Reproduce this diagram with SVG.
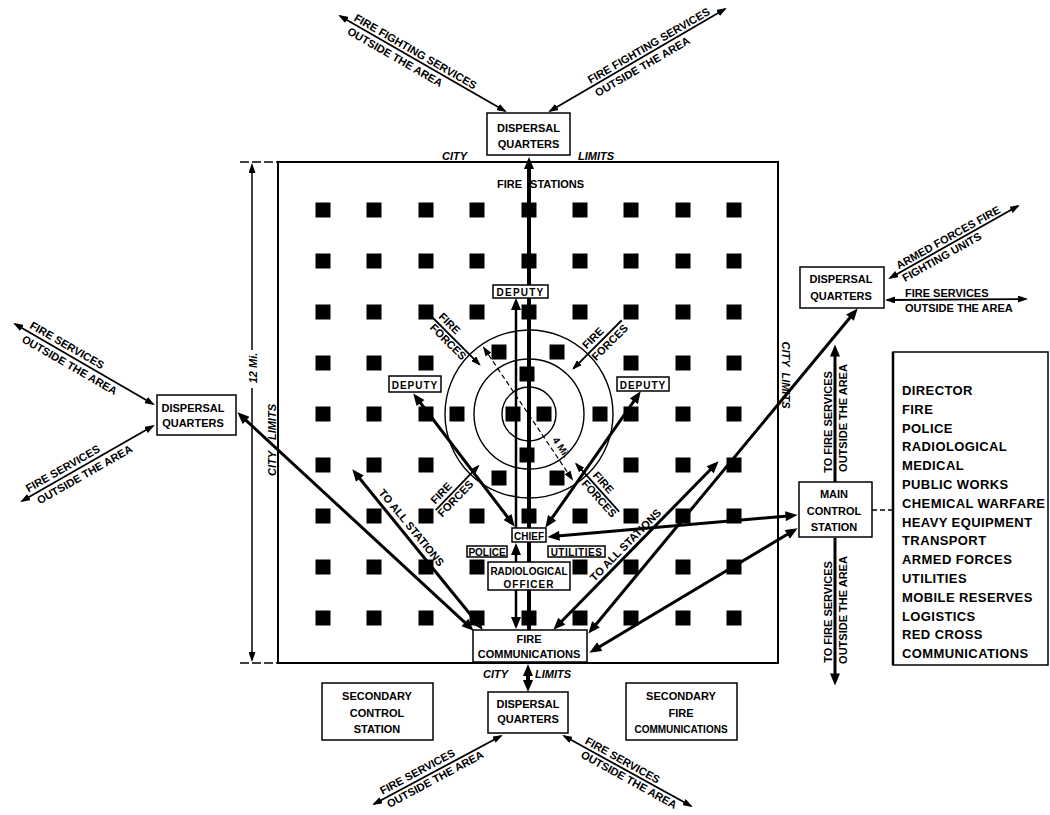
<svg xmlns="http://www.w3.org/2000/svg" width="1050" height="815" viewBox="0 0 1050 815">
<defs>
<style>
.t{font-family:"Liberation Sans",Arial,sans-serif;font-weight:bold;font-size:11px;fill:#000}
.s10{font-size:10px}
.s13{font-size:13px;letter-spacing:0.4px}
.m{text-anchor:middle}
.i{font-style:italic}
.box{fill:#fff;stroke:#000;stroke-width:1.5}
.sq{fill:#000}
.c{fill:none;stroke:#000;stroke-width:1.4}
.k{stroke:#000;fill:none}
.w4{stroke-width:4}
.w3{stroke-width:3}
.w25{stroke-width:2.5}
.w2{stroke-width:1.8}
.AA{marker-start:url(#A);marker-end:url(#A)}
.AE{marker-end:url(#A)}
.aa{marker-start:url(#a);marker-end:url(#a)}
.ae{marker-end:url(#a)}
</style>
<marker id="A" viewBox="0 0 12 10" refX="5" refY="5" markerWidth="13" markerHeight="10" markerUnits="userSpaceOnUse" orient="auto-start-reverse"><path d="M0,0L12,5L0,10z"/></marker>
<marker id="a" viewBox="0 0 10 7" refX="8" refY="3.5" markerWidth="10" markerHeight="7" markerUnits="userSpaceOnUse" orient="auto-start-reverse"><path d="M0,0L10,3.5L0,7z"/></marker>
</defs>
<rect width="1050" height="815" fill="#fff"/>

<!-- city limits and dimension -->
<g id="city">
<rect x="278" y="162" width="500" height="501" fill="none" stroke="#000" stroke-width="2"/>
<line x1="240" y1="162" x2="278" y2="162" stroke="#000" stroke-width="1.5" stroke-dasharray="9 3"/>
<line x1="240" y1="663" x2="278" y2="663" stroke="#000" stroke-width="1.5" stroke-dasharray="9 3"/>
<line x1="252" y1="350" x2="252" y2="165" class="k ae" stroke-width="1.5"/>
<line x1="252" y1="388" x2="252" y2="660" class="k ae" stroke-width="1.5"/>
<text class="t m i" transform="translate(257,368) rotate(-90)">12 Mi.</text>
<text class="t i" x="442" y="160">CITY</text>
<text class="t i" x="578" y="160">LIMITS</text>
<text class="t i" x="483" y="678">CITY</text>
<text class="t i" x="535" y="678">LIMITS</text>
<text class="t m i" transform="translate(276,440) rotate(-90)" word-spacing="8">CITY LIMITS</text>
<text class="t m i" transform="translate(782,375) rotate(90)" word-spacing="3">CITY LIMITS</text>
</g>

<!-- block grid -->
<g id="blocks" class="sq">
<rect x="315.5" y="202.5" width="15" height="15"/><rect x="366.5" y="202.5" width="15" height="15"/><rect x="418.5" y="202.5" width="15" height="15"/><rect x="469.5" y="202.5" width="15" height="15"/><rect x="521.5" y="202.5" width="15" height="15"/><rect x="572.5" y="202.5" width="15" height="15"/><rect x="623.5" y="202.5" width="15" height="15"/><rect x="675.5" y="202.5" width="15" height="15"/><rect x="726.5" y="202.5" width="15" height="15"/>
<rect x="315.5" y="253.5" width="15" height="15"/><rect x="366.5" y="253.5" width="15" height="15"/><rect x="418.5" y="253.5" width="15" height="15"/><rect x="469.5" y="253.5" width="15" height="15"/><rect x="521.5" y="253.5" width="15" height="15"/><rect x="572.5" y="253.5" width="15" height="15"/><rect x="623.5" y="253.5" width="15" height="15"/><rect x="675.5" y="253.5" width="15" height="15"/><rect x="726.5" y="253.5" width="15" height="15"/>
<rect x="315.5" y="304.5" width="15" height="15"/><rect x="366.5" y="304.5" width="15" height="15"/><rect x="418.5" y="304.5" width="15" height="15"/><rect x="469.5" y="304.5" width="15" height="15"/><rect x="521.5" y="304.5" width="15" height="15"/><rect x="572.5" y="304.5" width="15" height="15"/><rect x="623.5" y="304.5" width="15" height="15"/><rect x="675.5" y="304.5" width="15" height="15"/><rect x="726.5" y="304.5" width="15" height="15"/>
<rect x="315.5" y="355.5" width="15" height="15"/><rect x="366.5" y="355.5" width="15" height="15"/><rect x="418.5" y="355.5" width="15" height="15"/><rect x="623.5" y="355.5" width="15" height="15"/><rect x="675.5" y="355.5" width="15" height="15"/><rect x="726.5" y="355.5" width="15" height="15"/>
<rect x="315.5" y="406.5" width="15" height="15"/><rect x="366.5" y="406.5" width="15" height="15"/><rect x="418.5" y="406.5" width="15" height="15"/><rect x="623.5" y="406.5" width="15" height="15"/><rect x="675.5" y="406.5" width="15" height="15"/><rect x="726.5" y="406.5" width="15" height="15"/>
<rect x="315.5" y="457.5" width="15" height="15"/><rect x="366.5" y="457.5" width="15" height="15"/><rect x="418.5" y="457.5" width="15" height="15"/><rect x="623.5" y="457.5" width="15" height="15"/><rect x="675.5" y="457.5" width="15" height="15"/><rect x="726.5" y="457.5" width="15" height="15"/>
<rect x="315.5" y="508.5" width="15" height="15"/><rect x="366.5" y="508.5" width="15" height="15"/><rect x="418.5" y="508.5" width="15" height="15"/><rect x="469.5" y="508.5" width="15" height="15"/><rect x="521.5" y="508.5" width="15" height="15"/><rect x="572.5" y="508.5" width="15" height="15"/><rect x="623.5" y="508.5" width="15" height="15"/><rect x="675.5" y="508.5" width="15" height="15"/><rect x="726.5" y="508.5" width="15" height="15"/>
<rect x="315.5" y="559.5" width="15" height="15"/><rect x="366.5" y="559.5" width="15" height="15"/><rect x="418.5" y="559.5" width="15" height="15"/><rect x="469.5" y="559.5" width="15" height="15"/><rect x="572.5" y="559.5" width="15" height="15"/><rect x="623.5" y="559.5" width="15" height="15"/><rect x="675.5" y="559.5" width="15" height="15"/><rect x="726.5" y="559.5" width="15" height="15"/>
<rect x="315.5" y="610.5" width="15" height="15"/><rect x="366.5" y="610.5" width="15" height="15"/><rect x="418.5" y="610.5" width="15" height="15"/><rect x="469.5" y="610.5" width="15" height="15"/><rect x="521.5" y="610.5" width="15" height="15"/><rect x="572.5" y="610.5" width="15" height="15"/><rect x="623.5" y="610.5" width="15" height="15"/><rect x="675.5" y="610.5" width="15" height="15"/><rect x="726.5" y="610.5" width="15" height="15"/>
<!-- centre cluster -->
<rect x="449.5" y="406.5" width="15" height="15"/><rect x="505.5" y="406.5" width="15" height="15"/><rect x="536.5" y="406.5" width="15" height="15"/><rect x="592.5" y="406.5" width="15" height="15"/>
<rect x="519.5" y="366.5" width="15" height="15"/><rect x="519.5" y="447.5" width="15" height="15"/>
<rect x="491.5" y="344.5" width="15" height="15"/><rect x="549.5" y="344.5" width="15" height="15"/><rect x="491.5" y="470.5" width="15" height="15"/><rect x="549.5" y="470.5" width="15" height="15"/>
</g>

<!-- target rings -->
<g id="rings">
<circle class="c" cx="529" cy="414" r="27"/>
<circle class="c" cx="529" cy="414" r="55"/>
<circle class="c" cx="529" cy="414" r="84"/>
<line x1="484" y1="348" x2="572" y2="479" class="k aa" stroke-width="1.2" stroke-dasharray="5 3"/>
<text class="t s10" transform="translate(552,440) rotate(56)">4 Mi.</text>
</g>

<text class="t" x="497" y="188" word-spacing="5">FIRE STATIONS</text>

<!-- connectors -->
<g id="connectors" class="k">
<line x1="529" y1="633" x2="529" y2="164" class="w4 AE"/>
<line x1="528" y1="671" x2="528" y2="685" class="w4 AA"/>
<line x1="516" y1="528" x2="516" y2="305" class="w25 AE"/>
<line x1="516" y1="562" x2="516" y2="550" class="w25 AE"/>
<line x1="516" y1="590" x2="516" y2="622" class="w25 AE"/>
<line x1="417.5" y1="399" x2="510.5" y2="521" class="w3 AA"/>
<line x1="636.7" y1="397.1" x2="549.3" y2="521.9" class="w3 AA"/>
<line x1="242.5" y1="417.1" x2="468.5" y2="625.9" class="w3 AA" stroke-width="3.5"/>
<line x1="478.3" y1="624.2" x2="356.7" y2="474.8" class="w3 AA"/>
<line x1="558.3" y1="624.7" x2="713.7" y2="466.3" class="w3 AA"/>
<line x1="592.8" y1="628.2" x2="853.2" y2="313.8" class="w3 AA"/>
<line x1="595.4" y1="649.2" x2="791.6" y2="531.8" class="w3 AA"/>
<line x1="554.5" y1="536.3" x2="790.5" y2="515.7" class="w3 AA"/>
<line x1="835" y1="482" x2="835" y2="351.5" class="w3 AE" stroke-width="3.5"/>
<line x1="835" y1="538" x2="835" y2="678.5" class="w3 AE" stroke-width="3.5"/>
<line x1="340" y1="16" x2="505" y2="111" class="w2 aa"/>
<line x1="725" y1="9" x2="550" y2="111" class="w2 aa"/>
<line x1="15" y1="324" x2="153" y2="404" class="w2 aa"/>
<line x1="22" y1="501" x2="153" y2="426" class="w2 aa"/>
<line x1="890" y1="278" x2="1018" y2="206" class="w2 aa"/>
<line x1="887" y1="300" x2="1026" y2="299" class="w2 aa"/>
<line x1="501" y1="736" x2="374" y2="804" class="w2 aa"/>
<line x1="564" y1="736" x2="691" y2="806" class="w2 aa"/>
<line x1="872" y1="510" x2="893" y2="510" stroke-width="1.3" stroke-dasharray="5 3"/>
<g transform="translate(456,341) rotate(45)"><line x1="-35" y1="0" x2="33" y2="0" class="w2 ae"/></g>
<g transform="translate(597,345) rotate(-45)"><line x1="35" y1="0" x2="-33" y2="0" class="w2 ae"/></g>
<g transform="translate(458,487) rotate(-46)"><line x1="-32" y1="0" x2="29" y2="0" class="w2 ae"/></g>
<g transform="translate(597,487) rotate(48)"><line x1="33" y1="0" x2="-31" y2="0" class="w2 ae"/></g>
</g>

<!-- connector labels -->
<g id="labels">
<g transform="translate(422.5,63.5) rotate(29.9)"><text class="t m" x="-12" y="-3">FIRE FIGHTING SERVICES</text><text class="t m" x="-27" y="12">OUTSIDE THE AREA</text></g>
<g transform="translate(637.5,60) rotate(-30.2)"><text class="t m" x="17" y="-3">FIRE FIGHTING SERVICES</text><text class="t m" x="1" y="12">OUTSIDE THE AREA</text></g>
<g transform="translate(84,364) rotate(30)"><text class="t m" x="-24" y="-4">FIRE SERVICES</text><text class="t m" x="-12" y="12">OUTSIDE THE AREA</text></g>
<g transform="translate(87.5,463.5) rotate(-29.7)"><text class="t m" x="-24" y="-4">FIRE SERVICES</text><text class="t m" x="-8" y="12">OUTSIDE THE AREA</text></g>
<g transform="translate(437,770) rotate(-28.3)"><text class="t m" x="-18" y="-4">FIRE SERVICES</text><text class="t m" x="-6" y="11">OUTSIDE THE AREA</text></g>
<g transform="translate(628,771) rotate(29)"><text class="t m" x="-10" y="-3">FIRE SERVICES</text><text class="t m" x="5" y="11">OUTSIDE THE AREA</text></g>
<g transform="translate(954,242) rotate(-29.3)"><text class="t m" x="-3" y="-3">ARMED FORCES FIRE</text><text class="t m" x="-18" y="11">FIGHTING UNITS</text></g>
<text class="t" x="905" y="297">FIRE SERVICES</text>
<text class="t" x="905" y="312">OUTSIDE THE AREA</text>
<text class="t m" transform="translate(418,549.5) rotate(50.6)" x="-21" y="-5">TO ALL STATIONS</text>
<text class="t m" transform="translate(636,545.5) rotate(-45.5)" x="-7" y="-4">TO ALL STATIONS</text>
<g transform="translate(835,420) rotate(-90)"><text class="t m" x="-2" y="-3">TO FIRE SERVICES</text><text class="t m" x="2" y="12">OUTSIDE THE AREA</text></g>
<g transform="translate(835,612) rotate(-90)"><text class="t m" x="0" y="-3">TO FIRE SERVICES</text><text class="t m" x="2" y="12">OUTSIDE THE AREA</text></g>
<g transform="translate(456,341) rotate(45)"><text class="t m" x="-17" y="-4">FIRE</text><text class="t m" x="-5" y="10">FORCES</text></g>
<g transform="translate(597,345) rotate(-45)"><text class="t m" x="2" y="-4">FIRE</text><text class="t m" x="11" y="11">FORCES</text></g>
<g transform="translate(458,487) rotate(-46)"><text class="t m" x="-16" y="-4">FIRE</text><text class="t m" x="-10" y="10">FORCES</text></g>
<g transform="translate(597,487) rotate(48)"><text class="t m" x="1" y="-4">FIRE</text><text class="t m" x="10" y="10">FORCES</text></g>
</g>

<!-- nodes -->
<g id="dq-top"><rect class="box" x="487" y="113" width="83" height="42"/><text class="t m" x="528.5" y="132">DISPERSAL</text><text class="t m" x="528.5" y="148">QUARTERS</text></g>
<g id="dq-left"><rect class="box" x="157" y="395" width="79" height="40"/><text class="t m" x="193" y="412">DISPERSAL</text><text class="t m" x="193" y="427">QUARTERS</text></g>
<g id="dq-right"><rect class="box" x="800" y="267" width="84" height="41"/><text class="t m" x="841" y="283">DISPERSAL</text><text class="t m" x="841" y="300">QUARTERS</text></g>
<g id="dq-bottom"><rect class="box" x="488" y="692" width="80" height="41"/><text class="t m" x="528" y="708">DISPERSAL</text><text class="t m" x="528" y="723">QUARTERS</text></g>
<g id="sec-control"><rect class="box" x="322" y="683" width="111" height="57"/><text class="t m" x="377" y="700">SECONDARY</text><text class="t m" x="377" y="717">CONTROL</text><text class="t m" x="377" y="733">STATION</text></g>
<g id="sec-firecomm"><rect class="box" x="626" y="683" width="111" height="57"/><text class="t m" x="681" y="700">SECONDARY</text><text class="t m" x="681" y="717">FIRE</text><text class="t m s10" x="681" y="733">COMMUNICATIONS</text></g>
<g id="main-control"><rect class="box" x="799" y="482" width="73" height="55"/><text class="t m" x="834" y="498">MAIN</text><text class="t m" x="834" y="515">CONTROL</text><text class="t m" x="834" y="531">STATION</text></g>
<g id="fire-comm"><rect class="box" x="473" y="630" width="114" height="32"/><text class="t m" x="529" y="643">FIRE</text><text class="t m" x="529" y="658">COMMUNICATIONS</text></g>
<g id="chief"><rect class="box" x="512" y="528" width="34" height="14"/><text class="t m s10" x="529" y="539.5">CHIEF</text></g>
<g id="police"><rect class="box" x="467" y="546" width="40" height="11" stroke-width="1.2"/><text class="t m s10" x="487" y="555.5">POLICE</text></g>
<g id="utilities"><rect class="box" x="548" y="546" width="57" height="11" stroke-width="1.2"/><text class="t m s10" x="576.5" y="555.5" letter-spacing="0.5">UTILITIES</text></g>
<g id="radiological"><rect class="box" x="488" y="562" width="82" height="28"/><text class="t m s10" x="529" y="575">RADIOLOGICAL</text><text class="t m s10" x="529" y="588" letter-spacing="1">OFFICER</text></g>
<g id="deputy-top"><rect class="box" x="493" y="285" width="55" height="13"/><text class="t m s10" x="520.5" y="296" letter-spacing="1.2">DEPUTY</text></g>
<g id="deputy-left"><rect class="box" x="389" y="376" width="52" height="16"/><text class="t m s10" x="415" y="388.5" letter-spacing="1">DEPUTY</text></g>
<g id="deputy-right"><rect class="box" x="617" y="377" width="52" height="14"/><text class="t m s10" x="643" y="388.5" letter-spacing="1">DEPUTY</text></g>

<g id="legend">
<rect x="893" y="352" width="155" height="313" fill="#fff" stroke="#000" stroke-width="1.5"/>
<line x1="893" y1="352" x2="893" y2="665" stroke="#000" stroke-width="2.5"/>
<text class="t s13" x="902" y="395">DIRECTOR</text>
<text class="t s13" x="902" y="413.8">FIRE</text>
<text class="t s13" x="902" y="432.6">POLICE</text>
<text class="t s13" x="902" y="451.4">RADIOLOGICAL</text>
<text class="t s13" x="902" y="470.2">MEDICAL</text>
<text class="t s13" x="902" y="489">PUBLIC WORKS</text>
<text class="t s13" x="902" y="507.8">CHEMICAL WARFARE</text>
<text class="t s13" x="902" y="526.6">HEAVY EQUIPMENT</text>
<text class="t s13" x="902" y="545.4">TRANSPORT</text>
<text class="t s13" x="902" y="564.2">ARMED FORCES</text>
<text class="t s13" x="902" y="583">UTILITIES</text>
<text class="t s13" x="902" y="601.8">MOBILE RESERVES</text>
<text class="t s13" x="902" y="620.6">LOGISTICS</text>
<text class="t s13" x="902" y="639.4">RED CROSS</text>
<text class="t s13" x="902" y="658.2">COMMUNICATIONS</text>
</g>
</svg>
